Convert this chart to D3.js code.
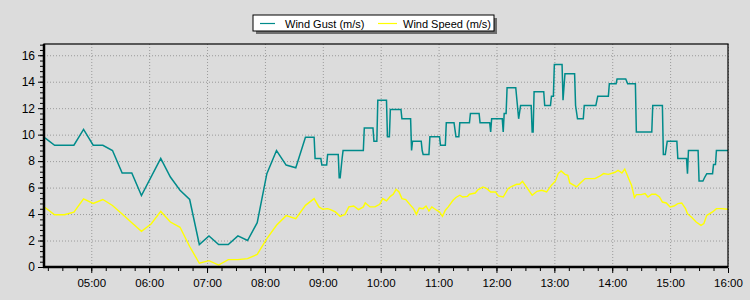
<!DOCTYPE html>
<html>
<head>
<meta charset="utf-8">
<script src="https://cdn.jsdelivr.net/npm/d3@7"></script>
<style>
  body { margin: 0; background: #dcdcdc; }
  svg { display: block; font-family: "Liberation Sans", Arial, sans-serif; }
</style>
</head>
<body>
<div id="chart"></div>
<script>
const width = 750, height = 300;
const margin = { top: 44, right: 22, bottom: 33, left: 44 };
const innerW = width - margin.left - margin.right;
const innerH = height - margin.top - margin.bottom;

// wind gust (m/s)
const gustTimes = [
  "04:12","04:22","04:32","04:42","04:52","05:02","05:12","05:22","05:32","05:42",
  "05:52","06:12","06:22","06:32","06:42","06:52","07:02","07:12","07:22","07:32",
  "07:42","07:52","08:02","08:12","08:22","08:32","08:42","08:51","08:52","08:58",
  "08:59","09:04","09:05","09:16","09:17","09:18","09:20","09:21","09:42","09:43",
  "09:52","09:53","09:56","09:57","10:06","10:07","10:09","10:10","10:21","10:22",
  "10:31","10:32","10:33","10:42","10:43","10:44","10:50","10:51","11:01","11:02",
  "11:07","11:08","11:16","11:18","11:21","11:22","11:32","11:33","11:42","11:43",
  "11:53","11:54","11:55","12:06","12:07","12:08","12:10","12:11","12:20","12:23",
  "12:25","12:36","12:37","12:38","12:39","12:49","12:50","12:56","12:57","12:59",
  "13:00","13:08","13:09","13:11","13:21","13:22","13:24","13:30","13:31","13:43",
  "13:45","13:56","13:57","14:04","14:05","14:14","14:16","14:24","14:25","14:41",
  "14:42","14:52","14:53","14:55","14:57","15:07","15:08","15:17","15:18","15:19",
  "15:29","15:30","15:34","15:36","15:38","15:44","15:45","15:47","15:48","16:00"
];
const gustValues = [
  9.75, 9.2, 9.2, 9.2, 10.4, 9.2, 9.2, 8.8, 7.1, 7.1,
  5.4, 8.2, 6.8, 5.8, 5.1, 1.7, 2.35, 1.7, 1.7, 2.35,
  2.0, 3.35, 7.05, 8.8, 7.7, 7.5, 9.8, 9.8, 8.2, 8.2,
  7.7, 7.7, 8.5, 8.5, 6.75, 6.75, 8.2, 8.8, 8.8, 10.5,
  10.5, 9.5, 9.5, 12.6, 12.6, 9.85, 9.85, 11.9, 11.9, 11.2,
  11.2, 8.8, 9.5, 9.5, 8.8, 8.5, 8.5, 9.85, 9.85, 9.2,
  9.2, 10.9, 10.9, 9.85, 9.85, 10.9, 10.9, 11.6, 11.6, 10.9,
  10.9, 10.2, 11.2, 11.2, 10.2, 11.6, 11.6, 13.55, 13.55, 11.2,
  12.2, 12.2, 10.2, 10.2, 13.25, 13.25, 12.2, 12.2, 12.9, 12.9,
  15.3, 15.3, 12.6, 14.6, 14.6, 12.2, 11.2, 11.2, 12.2, 12.2,
  12.9, 12.9, 13.85, 13.85, 14.2, 14.2, 13.85, 13.85, 10.2, 10.2,
  12.2, 12.2, 8.5, 8.5, 9.5, 9.5, 8.2, 8.2, 7.05, 8.8,
  8.8, 6.5, 6.5, 6.8, 7.05, 7.05, 7.75, 7.75, 8.8, 8.8
];

// wind speed (m/s)
const speedTimes = [
  "04:12","04:22","04:32","04:42","04:52","05:02","05:12","05:22","05:32","05:42",
  "05:52","06:02","06:12","06:22","06:32","06:42","06:52","07:02","07:12","07:22",
  "07:32","07:42","07:52","08:02","08:12","08:22","08:32","08:42","08:51","08:56",
  "09:00","09:05","09:08","09:13","09:18","09:23","09:27","09:32","09:37","09:42",
  "09:44","09:49","09:54","09:59","10:02","10:06","10:10","10:13","10:16","10:19",
  "10:22","10:26","10:31","10:34","10:37","10:40","10:44","10:47","10:50","10:53",
  "10:58","11:01","11:04","11:07","11:10","11:15","11:18","11:22","11:25","11:30",
  "11:32","11:38","11:41","11:46","11:50","11:54","11:59","12:02","12:07","12:12",
  "12:16","12:21","12:24","12:27","12:31","12:37","12:42","12:47","12:52","12:57",
  "13:01","13:04","13:07","13:11","13:14","13:16","13:20","13:23","13:27","13:32",
  "13:37","13:42","13:47","13:51","13:56","14:03","14:06","14:10","14:13","14:17",
  "14:20","14:23","14:25","14:30","14:34","14:37","14:41","14:45","14:49","14:52",
  "14:56","15:00","15:04","15:08","15:12","15:16","15:18","15:22","15:27","15:32",
  "15:35","15:38","15:41","15:44","15:48","15:53","16:00"
];
const speedValues = [
  4.5, 3.95, 3.95, 4.15, 5.15, 4.8, 5.1, 4.65, 4.0, 3.35,
  2.7, 3.25, 4.2, 3.4, 3.0, 1.55, 0.28, 0.48, 0.15, 0.56,
  0.56, 0.63, 0.95, 2.15, 3.15, 3.88, 3.66, 4.66, 5.17, 4.54,
  4.36, 4.41, 4.34, 4.16, 3.83, 3.98, 4.54, 4.61, 4.34, 4.54,
  4.84, 4.54, 4.54, 4.74, 5.17, 4.99, 5.34, 5.5, 5.87, 5.67,
  5.17, 5.09, 4.66, 4.41, 3.98, 4.46, 4.41, 4.61, 4.23, 4.54,
  4.29, 4.16, 3.83, 4.29, 4.54, 5.04, 5.25, 5.42, 5.29, 5.34,
  5.5, 5.59, 5.85, 6.05, 5.92, 5.67, 5.67, 5.37, 5.29, 5.92,
  6.1, 6.25, 6.25, 6.48, 6.05, 5.42, 5.72, 5.8, 5.67, 6.18,
  6.48, 7.06, 7.26, 7.0, 6.93, 6.35, 6.18, 6.05, 6.35, 6.68,
  6.68, 6.68, 6.86, 7.06, 7.0, 7.16, 7.31, 7.1, 7.4, 6.68,
  6.18, 5.25, 5.47, 5.47, 5.55, 5.29, 5.5, 5.5, 5.29, 4.91,
  4.84, 4.54, 4.61, 4.79, 4.84, 4.41, 4.03, 3.78, 3.4, 3.15,
  3.28, 3.9, 4.03, 4.16, 4.41, 4.41, 4.36
];

const seriesNames = ["Wind Gust (m/s)", "Wind Speed (m/s)"];
const seriesColors = ["#008b8b", "#ffff00"];
const timeStart = "04:11", timeEnd = "16:00";
const yMax = 16.85;

const parse = d3.timeParse("%H:%M");
const gust = gustTimes.map((t, i) => ({ t: parse(t), v: gustValues[i] }));
const speed = speedTimes.map((t, i) => ({ t: parse(t), v: speedValues[i] }));

const x = d3.scaleTime().domain([parse(timeStart), parse(timeEnd)]).range([0, innerW]);
const y = d3.scaleLinear().domain([0, yMax]).range([innerH, 0]);

const svg = d3.select("#chart").append("svg")
  .attr("width", width).attr("height", height);

svg.append("rect").attr("width", width).attr("height", height).attr("fill", "#dcdcdc");

const g = svg.append("g").attr("transform", "translate(" + margin.left + "," + margin.top + ")");

// grid
g.append("g")
  .attr("transform", "translate(0," + innerH + ")")
  .call(d3.axisBottom(x).ticks(d3.timeHour.every(1)).tickSize(-innerH).tickFormat(""))
  .call(s => s.select(".domain").remove())
  .selectAll("line").attr("stroke", "#9a9a9a").attr("stroke-dasharray", "1,2");

g.append("g")
  .call(d3.axisLeft(y).tickValues(d3.range(2, 17, 2)).tickSize(-innerW).tickFormat(""))
  .call(s => s.select(".domain").remove())
  .selectAll("line").attr("stroke", "#9a9a9a").attr("stroke-dasharray", "1,2");

// lines
const line = d3.line().x(d => x(d.t)).y(d => y(d.v));

g.append("path").datum(speed)
  .attr("d", line).attr("fill", "none")
  .attr("stroke", seriesColors[1]).attr("stroke-width", 1.4);

g.append("path").datum(gust)
  .attr("d", line).attr("fill", "none")
  .attr("stroke", seriesColors[0]).attr("stroke-width", 1.5);

// frame
g.append("rect").attr("width", innerW).attr("height", innerH)
  .attr("fill", "none").attr("stroke", "#000").attr("stroke-width", 1.2);
g.append("line").attr("x1", 0).attr("x2", 0).attr("y1", 0).attr("y2", innerH + 1)
  .attr("stroke", "#000").attr("stroke-width", 2.5);
g.append("line").attr("x1", -1).attr("x2", innerW).attr("y1", innerH).attr("y2", innerH)
  .attr("stroke", "#000").attr("stroke-width", 2.5);

// y axis
const yAxis = g.append("g").attr("transform", "translate(-1,0)")
  .call(d3.axisLeft(y).tickValues(d3.range(0, 17, 2)).tickSize(5).tickPadding(3));
yAxis.select(".domain").remove();
yAxis.selectAll("text").attr("font-size", 12).attr("fill", "#000");
g.append("g").attr("transform", "translate(-1,0)")
  .call(d3.axisLeft(y).tickValues(d3.range(0, 16.81, 0.4)).tickSize(3).tickFormat(""))
  .select(".domain").remove();

// x axis
const xAxis = g.append("g").attr("transform", "translate(0," + (innerH + 1) + ")")
  .call(d3.axisBottom(x).ticks(d3.timeHour.every(1)).tickSize(5).tickPadding(6)
    .tickFormat(d3.timeFormat("%H:%M")));
xAxis.select(".domain").remove();
xAxis.selectAll("text").attr("font-size", 11.5).attr("fill", "#000");
g.append("g").attr("transform", "translate(0," + (innerH + 1) + ")")
  .call(d3.axisBottom(x).ticks(d3.timeMinute.every(15)).tickSize(3).tickFormat(""))
  .select(".domain").remove();

// legend
const lg = svg.append("g").attr("transform", "translate(253,15)");
lg.append("rect").attr("x", 3).attr("y", 3).attr("width", 241).attr("height", 16).attr("fill", "#6e6e6e");
lg.append("rect").attr("width", 241).attr("height", 16).attr("fill", "#fff").attr("stroke", "#000");
const items = [{ x: 7, lx: 15, tx: 25 }, { x: 125, lx: 19, tx: 25 }];
seriesNames.forEach((name, i) => {
  const it = lg.append("g").attr("transform", "translate(" + items[i].x + ",0)");
  it.append("line").attr("x1", 0).attr("x2", items[i].lx).attr("y1", 8.5).attr("y2", 8.5)
    .attr("stroke", seriesColors[i]).attr("stroke-width", 1.2);
  it.append("text").attr("x", items[i].tx).attr("y", 12.5)
    .attr("font-size", 11).attr("fill", "#000").text(name);
});
</script>
</body>
</html>
